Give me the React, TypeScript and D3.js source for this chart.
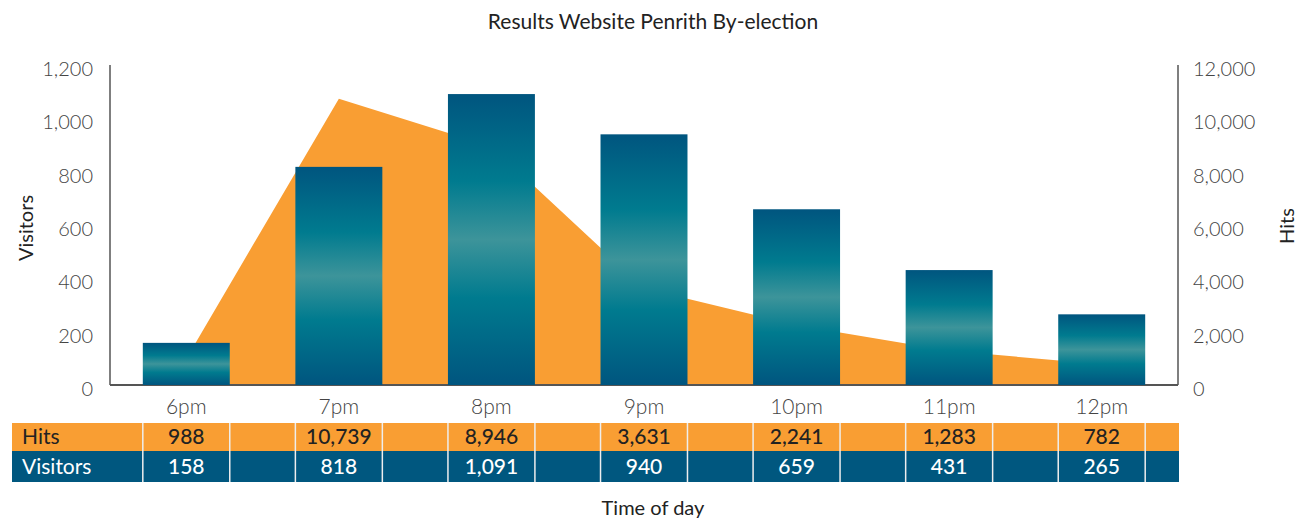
import React, { useEffect, useRef } from 'react';
import * as d3 from 'd3';

// Chart data
const categories = ['6pm', '7pm', '8pm', '9pm', '10pm', '11pm', '12pm'];
const hits = [988, 10739, 8946, 3631, 2241, 1283, 782];
const visitors = [158, 818, 1091, 940, 659, 431, 265];
const visitorTicks = [0, 200, 400, 600, 800, 1000, 1200];
const hitTicks = [0, 2000, 4000, 6000, 8000, 10000, 12000];

const W = 1303;
const H = 519;
const FONT = 'Lato, "Open Sans", sans-serif';
const ORANGE = '#f99e33';
const NAVY = '#00577f';

export default function App() {
  const svgRef = useRef<SVGSVGElement | null>(null);

  useEffect(() => {
    if (!svgRef.current) return;
    const svg = d3.select(svgRef.current);
    svg.selectAll('*').remove();

    const left = 110;
    const right = 1178;
    const top = 65;
    const bottom = 385;

    const x = d3.scaleBand<string>()
      .domain(categories)
      .range([left, right])
      .paddingInner(0.43)
      .paddingOuter(0.215);
    const bw = x.bandwidth();

    const yV = d3.scaleLinear().domain([0, 1200]).range([bottom, top]);
    const yH = d3.scaleLinear().domain([0, 12000]).range([bottom, top]);
    const fmt = d3.format(',');

    // bar gradient
    const defs = svg.append('defs');
    const grad = defs.append('linearGradient')
      .attr('id', 'barGrad')
      .attr('x1', 0).attr('y1', 0).attr('x2', 0).attr('y2', 1);
    [
      [0, '#00557f'],
      [0.3, '#007b8f'],
      [0.5, '#3d949a'],
      [0.7, '#007b8f'],
      [1, '#00557f'],
    ].forEach(([o, c]) => grad.append('stop').attr('offset', o as number).attr('stop-color', c as string));

    // title
    svg.append('text')
      .attr('x', 653).attr('y', 29)
      .attr('text-anchor', 'middle')
      .attr('font-family', FONT)
      .attr('font-size', 21)
      .attr('fill', '#222')
      .text('Results Website Penrith By-election');

    // hits area
    const area = d3.area<number>()
      .x((d, i) => (x(categories[i]) as number) + bw / 2)
      .y0(bottom)
      .y1(d => yH(d));
    svg.append('path')
      .datum(hits)
      .attr('d', area)
      .attr('fill', ORANGE);

    // axes lines
    const axisColor = '#555';
    svg.append('line').attr('x1', left).attr('x2', left).attr('y1', top).attr('y2', bottom)
      .attr('stroke', axisColor).attr('stroke-width', 1.5);
    svg.append('line').attr('x1', right).attr('x2', right).attr('y1', top).attr('y2', bottom)
      .attr('stroke', axisColor).attr('stroke-width', 1.5);
    svg.append('line').attr('x1', left).attr('x2', right).attr('y1', bottom).attr('y2', bottom)
      .attr('stroke', axisColor).attr('stroke-width', 2);

    // visitor bars
    svg.selectAll('.bar')
      .data(visitors)
      .enter()
      .append('rect')
      .attr('class', 'bar')
      .attr('x', (d, i) => x(categories[i]) as number)
      .attr('width', bw)
      .attr('y', d => yV(d))
      .attr('height', d => bottom - yV(d))
      .attr('fill', 'url(#barGrad)');

    // tick labels
    svg.selectAll('.ltick')
      .data(visitorTicks)
      .enter()
      .append('text')
      .attr('x', 93)
      .attr('y', d => yV(d) + 11)
      .attr('text-anchor', 'end')
      .attr('font-family', FONT)
      .attr('font-size', 20)
      .attr('font-weight', 300)
      .attr('fill', '#444')
      .text(d => fmt(d));

    svg.selectAll('.rtick')
      .data(hitTicks)
      .enter()
      .append('text')
      .attr('x', 1193)
      .attr('y', d => yH(d) + 11)
      .attr('text-anchor', 'start')
      .attr('font-family', FONT)
      .attr('font-size', 20)
      .attr('font-weight', 300)
      .attr('fill', '#444')
      .text(d => fmt(d));

    // axis titles
    svg.append('text')
      .attr('transform', 'translate(33,228) rotate(-90)')
      .attr('text-anchor', 'middle')
      .attr('font-family', FONT)
      .attr('font-size', 20)
      .attr('fill', '#222')
      .text('Visitors');
    svg.append('text')
      .attr('transform', 'translate(1294,226) rotate(-90)')
      .attr('text-anchor', 'middle')
      .attr('font-family', FONT)
      .attr('font-size', 20)
      .attr('fill', '#222')
      .text('Hits');

    // category labels
    svg.selectAll('.cat')
      .data(categories)
      .enter()
      .append('text')
      .attr('x', d => (x(d) as number) + bw / 2)
      .attr('y', 414)
      .attr('text-anchor', 'middle')
      .attr('font-family', FONT)
      .attr('font-size', 21)
      .attr('font-weight', 300)
      .attr('fill', '#444')
      .text(d => d);

    // data table
    const tLeft = 12;
    const tRight = 1179;
    const rows = [
      { label: 'Hits', values: hits, bg: ORANGE, fg: '#222', y0: 423, y1: 451 },
      { label: 'Visitors', values: visitors, bg: NAVY, fg: '#fff', y0: 451, y1: 482 },
    ];
    rows.forEach(r => {
      svg.append('rect')
        .attr('x', tLeft).attr('y', r.y0)
        .attr('width', tRight - tLeft).attr('height', r.y1 - r.y0)
        .attr('fill', r.bg);
      svg.append('text')
        .attr('x', 22).attr('y', (r.y0 + r.y1) / 2 + 7)
        .attr('font-family', FONT)
        .attr('font-size', 21)
        .attr('fill', r.fg)
        .text(r.label);
      svg.selectAll(null)
        .data(r.values)
        .enter()
        .append('text')
        .attr('x', (d, i) => (x(categories[i]) as number) + bw / 2)
        .attr('y', (r.y0 + r.y1) / 2 + 7)
        .attr('text-anchor', 'middle')
        .attr('font-family', FONT)
        .attr('font-size', 21)
        .attr('font-weight', 500)
        .attr('fill', r.fg)
        .text(d => fmt(d));
    });

    // cell separators at bar edges
    const edges: number[] = [];
    categories.forEach(c => {
      edges.push(x(c) as number, (x(c) as number) + bw);
    });
    svg.selectAll('.sep')
      .data(edges)
      .enter()
      .append('line')
      .attr('x1', d => d).attr('x2', d => d)
      .attr('y1', 423).attr('y2', 482)
      .attr('stroke', '#eeeeee')
      .attr('stroke-width', 1.5);

    // x axis title
    svg.append('text')
      .attr('x', 653).attr('y', 515)
      .attr('text-anchor', 'middle')
      .attr('font-family', FONT)
      .attr('font-size', 20)
      .attr('fill', '#222')
      .text('Time of day');
  }, []);

  return (
    <div style={{ position: 'absolute', left: 0, top: 0 }}>
      <svg ref={svgRef} width={W} height={H} style={{ display: 'block' }} />
    </div>
  );
}
